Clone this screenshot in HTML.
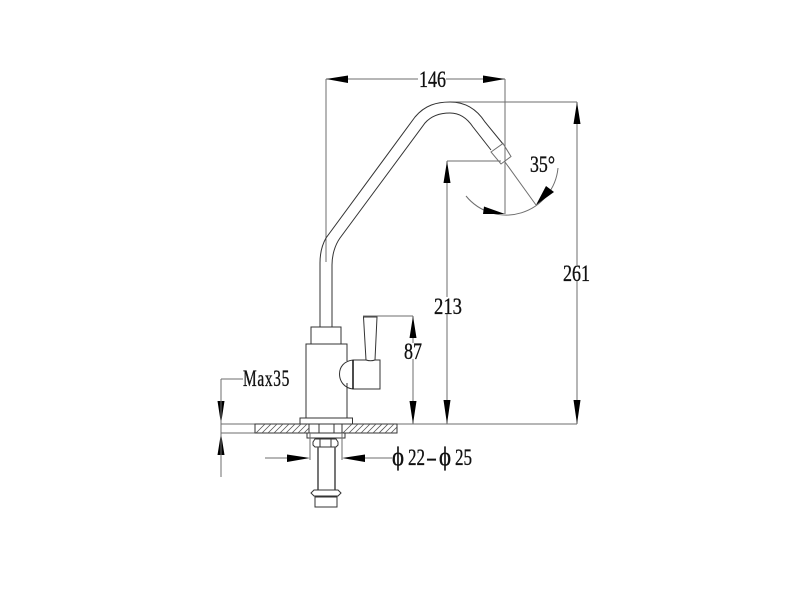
<!DOCTYPE html>
<html>
<head>
<meta charset="utf-8">
<style>
html,body{margin:0;padding:0;background:#fff;width:800px;height:600px;overflow:hidden}
svg{display:block}
text{font-family:"Liberation Serif",serif;font-size:23px;fill:#111;stroke:#111;stroke-width:.35}
.g{stroke:#6e6e6e;stroke-width:1;fill:none}
.d{stroke:#444;stroke-width:1.1;fill:none}
.k{stroke:#333;stroke-width:1;fill:none}
.a{fill:#000;stroke:none}
.h{stroke:#555;stroke-width:.8}
</style>
</head>
<body>
<svg width="800" height="600" viewBox="0 0 800 600" xmlns="http://www.w3.org/2000/svg">
<!-- dimension lines -->
<path class="g" d="M326 79V262M505 79V214M326 79H418M446 79H505M450 102H577M577 102V265M577 281V424M447 161V297M447 314V424M447 161H501M363 316H413M413 316V343M413 359V424M397 424H577"/>
<!-- angle -->
<path class="g" d="M505 162L536 205"/>
<path class="g" d="M466 196A52 52 0 0 0 558 168"/>
<path class="a" d="M505 214L484 206.500L483 214ZM536 205L546 186L554 192Z"/>
<!-- arrowheads -->
<path class="a" d="M326 79L348 75.500V83ZM505 79L483 75.500V83ZM577 102L573.500 124H580.500ZM577 424L573.500 400H580.500ZM447 161L443.500 183H450.500ZM447 424L443.500 400H450.500ZM413 316L409.500 338H416.500ZM413 424L409.500 401H416.500ZM221 424L217.500 401H224.500ZM221 433L217.500 455H224.500ZM310 458L287 454.500V462ZM342 458L365 454.500V462Z"/>
<!-- spout -->
<path class="k" d="M320 327V263C320 252 322 245 326 238L415 117C425 105 437 102 450 102C464 102 476 108 485 122L503 144"/>
<path class="k" d="M332 327V265C332 255 335 245 340 238L425 123C432 115 441 113 450 113C460 113 467 118 473 127L491 150"/>
<path class="g" d="M491 152L503 143.500L511 156.500L501 164Z"/>
<!-- body -->
<path class="k" d="M311 344V327H341V344M306 418V344H347V361M347 383V418"/>
<path class="k" stroke-width="1.500" d="M311 344H341"/>
<path class="k" d="M353 360C344 361 339.500 367 339.500 374C339.500 381 344 388 353 389"/>
<path class="k" d="M353 360H366M375 360H380V389H353V360"/>
<path stroke="#111" stroke-width="1.500" d="M353 360V389" fill="none"/>
<path class="k" d="M366 360L363.500 317H377L375 360C372 361 369 361 366 360Z"/>
<path class="k" d="M300 424V418H352.500V424"/>
<!-- plate -->
<path class="g" d="M221 424H255M221 433H255"/>
<path class="k" d="M255 424H309V433H255ZM342 424H397V433H342Z"/>
<g class="h">
<path d="M256 433l9-9M262 433l9-9M268 433l9-9M274 433l9-9M280 433l9-9M286 433l9-9M292 433l9-9M298 433l9-9M304 433l5-5"/>
<path d="M343 433l9-9M349 433l9-9M355 433l9-9M361 433l9-9M367 433l9-9M373 433l9-9M379 433l9-9M385 433l9-9M391 433l6-6"/>
</g>
<path class="k" d="M309 424H342M319 424V433M334 424V433"/>
<!-- fixing -->
<path class="k" d="M307 433H345V438H307Z"/>
<path class="k" d="M315 439H336L338 442V445L336 447H315L313 445V442Z"/>
<path class="k" d="M320 439V447M331 439V447"/>
<path stroke="#555" stroke-width="1.600" fill="none" d="M318 447V490M335 447V490"/>
<path class="k" d="M314 490H338L341 493L338 496H314L311 493Z"/>
<path class="k" d="M315 497H337V507H315Z"/>
<!-- ext -->
<path class="g" d="M310 433V460M342 433V460M265 458H287M365 458H392"/>
<path class="g" d="M221 379V477M221 379H243"/>
<!-- labels -->
<text x="419" y="87" textLength="27" lengthAdjust="spacingAndGlyphs">146</text>
<text x="530" y="172" textLength="25" lengthAdjust="spacingAndGlyphs">35°</text>
<text x="563" y="281" textLength="27" lengthAdjust="spacingAndGlyphs">261</text>
<text x="434" y="314" textLength="28" lengthAdjust="spacingAndGlyphs">213</text>
<text x="404" y="359" textLength="18" lengthAdjust="spacingAndGlyphs">87</text>
<text x="243" y="386" textLength="47" lengthAdjust="spacingAndGlyphs" letter-spacing="1">Max35</text>
<text x="392" y="465" textLength="12" lengthAdjust="spacingAndGlyphs" style="font-size:26px">ϕ</text>
<text x="408" y="465" textLength="17" lengthAdjust="spacingAndGlyphs">22</text>
<text x="426" y="465" textLength="11" lengthAdjust="spacingAndGlyphs">-</text>
<text x="439" y="465" textLength="12" lengthAdjust="spacingAndGlyphs" style="font-size:26px">ϕ</text>
<text x="455" y="465" textLength="17" lengthAdjust="spacingAndGlyphs">25</text>
</svg>
</body>
</html>
